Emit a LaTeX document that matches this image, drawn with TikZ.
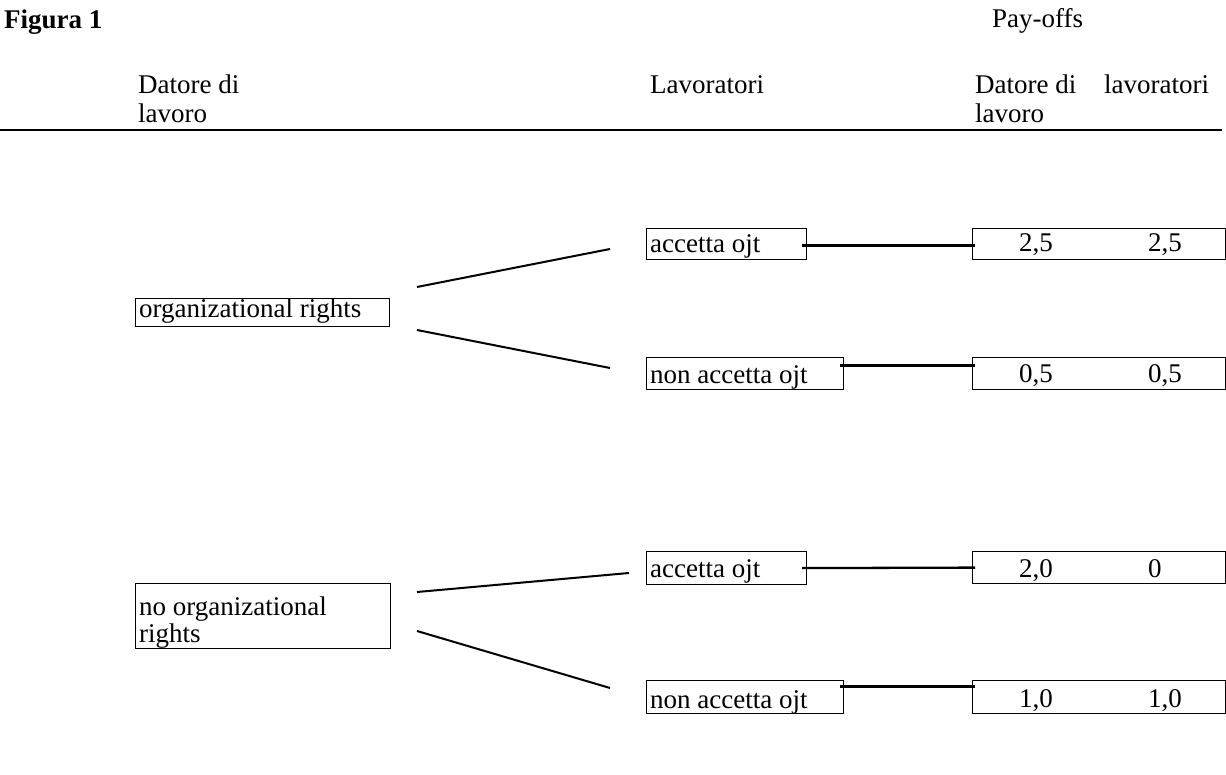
\documentclass[tikz,border=0pt]{standalone}
\usepackage{fontspec}
\setmainfont{Liberation Serif}
\begin{document}
\begin{tikzpicture}[x=1pt,y=-1pt,
  every node/.style={font=\fontsize{27}{27}\selectfont, inner sep=0pt},
  box/.style={draw, line width=1.2pt, rectangle, anchor=north west, inner sep=0pt},
  txt/.style={anchor=base west},
  conn/.style={line width=2.3pt},
  branch/.style={line width=2pt},
  rule/.style={line width=1.6pt}]
\useasboundingbox (0,0) rectangle (1226,775);

% header
\node[txt,font=\fontsize{27}{27}\selectfont\bfseries] (fig) at (4,29) {Figura 1};
\node[txt] (pay) at (992,28) {Pay-offs};
\node[txt] (h1a) at (138,94) {Datore di};
\node[txt] (h1b) at (138,123) {lavoro};
\node[txt] (h2) at (650,94) {Lavoratori};
\node[txt] (h3a) at (975,94) {Datore di};
\node[txt] (h3b) at (975,123) {lavoro};
\node[txt] (h4) at (1104,94) {lavoratori};
\coordinate (rl) at (0,130);
\coordinate (rr) at (1222,130);
\draw[rule] (rl) -- (rr);

% boxes
\node[box, minimum width=254pt, minimum height=28pt] (OR) at (135,298) {};
\node[box, minimum width=255pt, minimum height=65pt] (NOR) at (135,583) {};
\node[box, minimum width=160pt, minimum height=31pt] (A1) at (646,228) {};
\node[box, minimum width=197pt, minimum height=32pt] (N1) at (646,357) {};
\node[box, minimum width=253pt, minimum height=31pt] (P1) at (972,228) {};
\node[box, minimum width=253pt, minimum height=32pt] (P2) at (972,357) {};
\node[box, minimum width=160pt, minimum height=33pt] (A2) at (646,551) {};
\node[box, minimum width=197pt, minimum height=33pt] (N2) at (646,680) {};
\node[box, minimum width=253pt, minimum height=32pt] (P3) at (972,551) {};
\node[box, minimum width=253pt, minimum height=33pt] (P4) at (972,680) {};

% box texts
\node[txt] (tOR) at (139,318) {organizational rights};
\node[txt] (tNORa) at (139,615) {no organizational};
\node[txt] (tNORb) at (139,642) {rights};
\node[txt] (tA1) at (650,253) {accetta ojt};
\node[txt] (tN1) at (650,384) {non accetta ojt};
\node[txt] (tA2) at (650,577) {accetta ojt};
\node[txt] (tN2) at (650,708) {non accetta ojt};
\node[txt] (p1a) at (1019,252) {2,5};
\node[txt] (p1b) at (1148,252) {2,5};
\node[txt] (p2a) at (1019,383) {0,5};
\node[txt] (p2b) at (1148,383) {0,5};
\node[txt] (p3a) at (1019,577) {2,0};
\node[txt] (p3b) at (1148,577) {0};
\node[txt] (p4a) at (1019,707) {1,0};
\node[txt] (p4b) at (1148,707) {1,0};

% branches
\coordinate (b1s) at (417,287); \coordinate (b1e) at (610,249);
\coordinate (b2s) at (417,330); \coordinate (b2e) at (610,368);
\coordinate (b3s) at (417,592); \coordinate (b3e) at (629,573);
\coordinate (b4s) at (417,631); \coordinate (b4e) at (610,688);
\draw[branch] (b1s) -- (b1e);
\draw[branch] (b2s) -- (b2e);
\draw[branch] (b3s) -- (b3e);
\draw[branch] (b4s) -- (b4e);

% connectors to payoffs
\draw[conn] ([shift={(-5,1.5)}]A1.east) -- ([shift={(3,1.5)}]P1.west);
\draw[conn] ([shift={(-4,-8)}]N1.east) -- ([shift={(3,-8)}]P2.west);
\draw[conn] ([shift={(-5,0)}]A2.east) -- ([shift={(3,0)}]P3.west);
\draw[conn] ([shift={(-4,-10.5)}]N2.east) -- ([shift={(3,-10.5)}]P4.west);
\end{tikzpicture}
\end{document}
